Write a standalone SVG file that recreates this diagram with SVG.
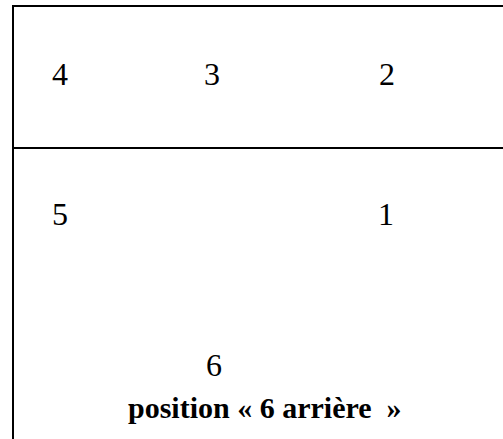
<svg xmlns="http://www.w3.org/2000/svg" width="503" height="439" viewBox="0 0 503 439">
<style>
.frame{fill:none;stroke:#000;stroke-width:2}
.num{font-family:"Liberation Serif","Times New Roman",serif;font-size:32px;fill:#000}
.cap{font-family:"Liberation Serif","Times New Roman",serif;font-size:30px;font-weight:bold;fill:#000}
</style>
<rect width="503" height="439" fill="#fff"/>
<g id="frame">
<path class="frame" d="M13,445 V6 H510"/>
<line class="frame" x1="13" y1="148" x2="510" y2="148"/>
</g>
<g id="connectors"></g>
<g id="n4"><text class="num" x="52" y="85">4</text></g>
<g id="n3"><text class="num" x="204" y="85">3</text></g>
<g id="n2"><text class="num" x="379" y="85">2</text></g>
<g id="n5"><text class="num" x="52" y="225">5</text></g>
<g id="n1"><text class="num" x="378" y="225">1</text></g>
<g id="n6"><text class="num" x="206" y="376">6</text></g>
<g id="caption"><text class="cap" x="128" y="418">position « 6 arrière&#160; »</text></g>
</svg>
